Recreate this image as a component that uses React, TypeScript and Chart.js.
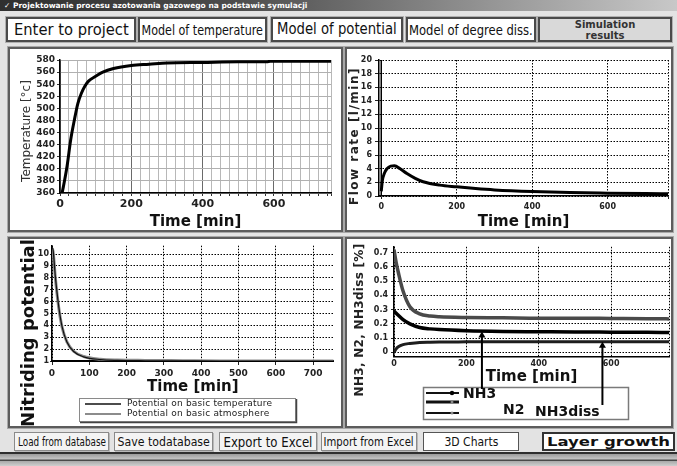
import React, { useEffect, useLayoutEffect, useRef } from "react";
import { Chart, registerables } from "chart.js";

Chart.register(...registerables);

const SANS = "'DejaVu Sans', 'Noto Sans', sans-serif";

// ---------- data ----------
// Temperature model
const tempTime = [0, 5, 10, 20, 30, 40, 50, 60, 70, 80, 100, 120, 150, 200, 250, 300, 400, 500, 580, 590, 760];
const tempValues = [350, 358, 372, 405, 448, 480, 508, 525, 537, 545, 553, 560, 566, 571, 573, 575, 576, 577, 577, 578, 578];
const tempTicks = [360, 380, 400, 420, 440, 460, 480, 500, 520, 540, 560, 580];

// Flow rate
const flowTime = [0, 3, 8, 15, 25, 35, 50, 68, 90, 111, 155, 200, 250, 300, 400, 500, 600, 700, 760];
const flowValues = [0.7, 2.3, 3.3, 4.0, 4.4, 4.45, 4.0, 3.3, 2.6, 2.1, 1.6, 1.35, 1.1, 0.9, 0.65, 0.5, 0.42, 0.36, 0.33];
const flowStartTime = [0, 0];
const flowStartValues = [0, 20];
const flowTicks = [0, 2, 4, 6, 8, 10, 12, 14, 16, 18, 20];

// Nitriding potential
const potTime = [0, 3, 9, 18, 27, 40, 58, 85, 130, 175, 250, 350, 450, 550, 650, 755];
const potTemperature = [10.6, 10.3, 8.1, 5.6, 3.9, 2.6, 1.8, 1.35, 1.12, 1.05, 1.02, 1.01, 1.0, 1.0, 1.0, 1.0];
const potAtmosphere = [10.5, 10.2, 8.0, 5.5, 3.85, 2.6, 1.82, 1.38, 1.15, 1.08, 1.05, 1.03, 1.01, 1.0, 1.0, 1.0];
const potTicks = [1, 2, 3, 4, 5, 6, 7, 8, 9, 10];
const potTimeLabels = [0, 100, 200, 300, 400, 500, 600, 700];

// Gas composition
const gasTime = [0, 6, 12, 25, 44, 71, 100, 125, 200, 300, 400, 500, 600, 700, 760];
const nh3Values = [0.29, 0.275, 0.26, 0.23, 0.2, 0.175, 0.165, 0.16, 0.152, 0.147, 0.145, 0.143, 0.142, 0.141, 0.14];
const n2Values = [0.72, 0.63, 0.56, 0.43, 0.32, 0.27, 0.255, 0.25, 0.245, 0.243, 0.24, 0.24, 0.238, 0.236, 0.235];
const nh3dissValues = [0.0, 0.025, 0.04, 0.055, 0.063, 0.07, 0.072, 0.073, 0.074, 0.075, 0.075, 0.075, 0.075, 0.075, 0.075];
const gasTicks = [0, 0.1, 0.2, 0.3, 0.4, 0.5, 0.6, 0.7];
const arrowTargets = [
  { label: "NH3", time: 243, value: 0.147 },
  { label: "NH3diss", time: 576, value: 0.075 },
];

const timeLabels = [0, 200, 400, 600];

// ---------- helpers ----------
const pts = (xs: number[], ys: number[]) => xs.map((x, i) => ({ x, y: ys[i] }));
const setTicks = (values: number[]) => (scale: any) => {
  scale.ticks = values.map((value) => ({ value }));
};

type TextItem = { text: string; x: number; y: number; rotate?: number; font: string; color?: string; align?: string; spacing?: number };
const textPlugin = (id: string, items: TextItem[]) => ({
  id,
  afterDraw(chart: any) {
    const ctx = chart.ctx;
    for (const it of items) {
      ctx.save();
      ctx.translate(it.x, it.y);
      if (it.rotate) ctx.rotate(it.rotate);
      ctx.font = it.font;
      if (it.spacing) ctx.letterSpacing = it.spacing + "px";
      ctx.fillStyle = it.color || "#000";
      ctx.textAlign = it.align || "center";
      ctx.textBaseline = "middle";
      ctx.fillText(it.text, 0, 0);
      ctx.restore();
    }
  },
});

const lineDs = (label: string, data: any, color: string, width: number) => ({
  label,
  data,
  borderColor: color,
  backgroundColor: color,
  borderWidth: width,
  pointRadius: 0,
  fill: false,
  cubicInterpolationMode: "monotone",
});

const tickFont = (size: number, weight = "bold") => ({ family: SANS, size, weight });
const timeTitle = (padBottom: number) => ({
  display: true,
  text: "Time [min]",
  color: "#111",
  font: { family: SANS, size: 15, weight: "bold", lineHeight: 1 },
  padding: { top: 0, bottom: padBottom },
});

// ---------- chart configs ----------
function tempConfig(): any {
  return {
    type: "line",
    data: { datasets: [lineDs("Temperature", pts(tempTime, tempValues), "#000", 3)] },
    options: {
      animation: false,
      responsive: false,
      layout: { padding: { top: 11, right: 10, left: 0, bottom: 0 } },
      plugins: { legend: { display: false }, tooltip: { enabled: false } },
      scales: {
        x: {
          type: "linear",
          min: 0,
          max: 760,
          afterBuildTicks: (s: any) => {
            const t: any[] = [];
            for (let v = 0; v <= 750; v += 25) t.push({ value: v });
            t.push({ value: 760 });
            s.ticks = t;
          },
          afterFit: (s: any) => { s.height = 37; },
          ticks: {
            autoSkip: false, maxRotation: 0, padding: 2, color: "#222", font: tickFont(11),
            callback: (v: number) => (timeLabels.includes(v) ? String(v) : ""),
          },
          grid: { color: (c: any) => (c.tick && c.tick.value % 200 === 0 ? "#6a6a6a" : "#b8b8b8"), tickLength: 3, tickColor: "#333" },
          border: { color: "#000", width: 1.5 },
          title: timeTitle(0.5),
        },
        y: {
          min: 360,
          max: 580,
          afterBuildTicks: setTicks(tempTicks),
          afterFit: (s: any) => { s.width = 50; },
          ticks: { autoSkip: false, padding: 2, color: "#222", font: tickFont(9) },
          grid: { color: "#b0b0b0", tickLength: 3, tickColor: "#333" },
          border: { color: "#000", width: 1.5 },
        },
      },
    },
    plugins: [
      textPlugin("t1", [{ text: "Temperature [°c]", x: 17, y: 82, rotate: -Math.PI / 2, font: `12px ${SANS}`, color: "#333" }]),
    ],
  };
}

const DASH = [1.5, 1.5];
const dotted = { color: "#000", tickLength: 4, tickColor: "#222" };

function flowConfig(): any {
  return {
    type: "line",
    data: {
      datasets: [
        lineDs("Flow rate", pts(flowTime, flowValues), "#000", 3),
        { ...lineDs("Start", pts(flowStartTime, flowStartValues), "#000", 1.5), cubicInterpolationMode: "default" },
      ],
    },
    options: {
      animation: false,
      responsive: false,
      layout: { padding: { top: 11, right: 3, left: 0, bottom: 0 } },
      plugins: { legend: { display: false }, tooltip: { enabled: false } },
      scales: {
        x: {
          type: "linear",
          min: -6,
          max: 760,
          afterBuildTicks: setTicks([...timeLabels, 760]),
          afterFit: (s: any) => { s.height = 34; },
          ticks: {
            autoSkip: false, maxRotation: 0, padding: 3, color: "#222", font: tickFont(8),
            callback: (v: number) => (timeLabels.includes(v) ? String(v) : ""),
          },
          grid: { ...dotted, tickLength: 3 },
          border: { color: "#000", width: 1.5, dash: DASH },
          title: timeTitle(0),
        },
        y: {
          min: 0,
          max: 20,
          afterBuildTicks: setTicks(flowTicks),
          afterFit: (s: any) => { s.width = 32; },
          ticks: { autoSkip: false, padding: 3, color: "#222", font: tickFont(8) },
          grid: dotted,
          border: { color: "#000", width: 1.5, dash: DASH },
        },
      },
    },
    plugins: [
      textPlugin("t2", [{ text: "Flow rate [l/min]", x: 8, y: 87, rotate: -Math.PI / 2, font: `bold 12px ${SANS}`, color: "#222", spacing: 1.5 }]),
    ],
  };
}

function potConfig(): any {
  const legendPlugin = {
    id: "potLegend",
    afterDraw(chart: any) {
      const ctx = chart.ctx;
      ctx.save();
      ctx.fillStyle = "#fff";
      ctx.fillRect(69, 159, 216, 23);
      ctx.strokeStyle = "#8a8a8a";
      ctx.lineWidth = 1;
      ctx.strokeRect(69.5, 159.5, 216, 23);
      ctx.strokeStyle = "#444";
      ctx.lineWidth = 1.5;
      ctx.beginPath();
      ctx.moveTo(70, 183.5);
      ctx.lineTo(286.5, 183.5);
      ctx.lineTo(286.5, 160);
      ctx.stroke();
      chart.data.datasets.forEach((ds: any, i: number) => {
        const y = 165 + i * 10;
        ctx.strokeStyle = ds.borderColor;
        ctx.lineWidth = i === 0 ? 1.5 : 2;
        ctx.beginPath();
        ctx.moveTo(75, y);
        ctx.lineTo(111, y);
        ctx.stroke();
        ctx.font = `9px ${SANS}`;
        ctx.letterSpacing = "0.2px";
        ctx.fillStyle = "#222";
        ctx.textAlign = "left";
        ctx.textBaseline = "middle";
        ctx.fillText(ds.label, 117, y);
      });
      ctx.restore();
    },
  };
  return {
    type: "line",
    data: {
      datasets: [
        lineDs("Potential on basic temperature", pts(potTime, potTemperature), "#111", 1.2),
        lineDs("Potential on basic atmosphere", pts(potTime, potAtmosphere), "#8c8c8c", 3),
      ],
    },
    options: {
      animation: false,
      responsive: false,
      layout: { padding: { top: 6.7, right: 7.4, left: 0, bottom: 0 } },
      plugins: { legend: { display: false }, tooltip: { enabled: false } },
      scales: {
        x: {
          type: "linear",
          min: 0,
          max: 755,
          afterBuildTicks: setTicks(potTimeLabels),
          afterFit: (s: any) => { s.height = 65; },
          ticks: { autoSkip: false, maxRotation: 0, padding: 3, color: "#222", font: tickFont(9) },
          grid: { ...dotted, tickLength: 4 },
          border: { color: "#000", width: 2, dash: DASH },
          title: timeTitle(31.5),
        },
        y: {
          min: 1,
          max: 10.7,
          afterBuildTicks: setTicks(potTicks),
          afterFit: (s: any) => { s.width = 42; },
          ticks: { autoSkip: false, padding: 1, color: "#222", font: tickFont(8) },
          grid: { ...dotted, tickLength: 2 },
          border: { color: "#000", width: 1.5, dash: DASH },
        },
      },
    },
    plugins: [
      textPlugin("t3", [{ text: "Nitriding potential", x: 19, y: 94, rotate: -Math.PI / 2, font: `bold 18px ${SANS}`, color: "#111" }]),
      legendPlugin,
    ],
  };
}

function gasConfig(): any {
  const legendPlugin = {
    id: "gasLegend",
    afterDraw(chart: any) {
      const ctx = chart.ctx;
      const xs = chart.scales.x;
      const ys = chart.scales.y;
      ctx.save();
      // legend box
      ctx.fillStyle = "#fff";
      ctx.fillRect(76, 148, 205, 32);
      ctx.strokeStyle = "#7a7a7a";
      ctx.lineWidth = 1.5;
      ctx.strokeRect(76.5, 148.5, 205, 32);
      const rowY = [154, 163, 174];
      chart.data.datasets.forEach((ds: any, i: number) => {
        ctx.strokeStyle = "#111";
        ctx.lineWidth = i === 1 ? 3 : 2;
        ctx.beginPath();
        ctx.moveTo(79, rowY[i]);
        ctx.lineTo(112, rowY[i]);
        ctx.stroke();
        ctx.fillStyle = i === 0 ? "#000" : "#888";
        ctx.beginPath();
        ctx.arc(105, rowY[i], i === 0 ? 2.2 : 1.5, 0, Math.PI * 2);
        ctx.fill();
      });
      ctx.fillStyle = "#111";
      ctx.font = `bold 14px ${SANS}`;
      ctx.textAlign = "left";
      ctx.textBaseline = "middle";
      const labelPos = [
        [116, 155],
        [156, 171],
        [188, 173],
      ];
      chart.data.datasets.forEach((ds: any, i: number) => {
        ctx.fillText(ds.label, labelPos[i][0], labelPos[i][1]);
      });
      // arrows
      const arrowBottom: Record<string, number> = { NH3: 150, NH3diss: 166 };
      for (const a of arrowTargets) {
        const px = xs.getPixelForValue(a.time);
        const py = ys.getPixelForValue(a.value);
        ctx.strokeStyle = "#000";
        ctx.lineWidth = 2;
        ctx.beginPath();
        ctx.moveTo(px, arrowBottom[a.label]);
        ctx.lineTo(px, py + 3);
        ctx.stroke();
        ctx.fillStyle = "#000";
        ctx.beginPath();
        ctx.moveTo(px, py);
        ctx.lineTo(px - 3.5, py + 6);
        ctx.lineTo(px + 3.5, py + 6);
        ctx.closePath();
        ctx.fill();
      }
      ctx.restore();
    },
  };
  return {
    type: "line",
    data: {
      datasets: [
        lineDs("NH3", pts(gasTime, nh3Values), "#000", 3.5),
        lineDs("N2", pts(gasTime, n2Values), "#4a4a4a", 3.5),
        lineDs("NH3diss", pts(gasTime, nh3dissValues), "#1e1e1e", 3),
      ],
    },
    options: {
      animation: false,
      responsive: false,
      layout: { padding: { top: 5.3, right: 1, left: 0, bottom: 0 } },
      plugins: { legend: { display: false }, tooltip: { enabled: false } },
      scales: {
        x: {
          type: "linear",
          min: 0,
          max: 760,
          afterBuildTicks: setTicks([...timeLabels, 760]),
          afterFit: (s: any) => { s.height = 69.3; },
          ticks: {
            autoSkip: false, maxRotation: 0, padding: 2, color: "#222", font: tickFont(8),
            callback: (v: number) => (timeLabels.includes(v) ? String(v) : ""),
          },
          grid: { ...dotted, drawTicks: false },
          border: { color: "#000", width: 1.5, dash: DASH },
          title: timeTitle(41.8),
        },
        y: {
          min: -0.03,
          max: 0.74,
          afterBuildTicks: setTicks(gasTicks),
          afterFit: (s: any) => { s.width = 47; },
          ticks: {
            autoSkip: false, padding: 3, color: "#222", font: tickFont(8),
            callback: (v: number) => (v === 0 ? "0" : v.toFixed(1)),
          },
          grid: { ...dotted, tickLength: 3 },
          border: { color: "#000", width: 1.5, dash: DASH },
        },
      },
    },
    plugins: [
      textPlugin("t4", [{ text: "NH3, N2, NH3diss [%]", x: 13, y: 81, rotate: -Math.PI / 2, font: `bold 12px ${SANS}`, color: "#222", spacing: 0.3 }]),
      legendPlugin,
    ],
  };
}

// ---------- components ----------
function ChartPanel({ x, y, w, h, make }: any) {
  const ref = useRef<HTMLCanvasElement>(null);
  useEffect(() => {
    const chart = new Chart(ref.current as HTMLCanvasElement, make());
    return () => chart.destroy();
  }, []);
  return (
    <div
      style={{
        position: "absolute", left: x, top: y, width: w, height: h, boxSizing: "border-box",
        border: "2px solid #5c5c5c", background: "#fff", boxShadow: "0 0 0 1px #a8a8a8",
      }}
    >
      <canvas ref={ref} width={w - 4} height={h - 4} style={{ position: "absolute", left: 0, top: 0 }} />
    </div>
  );
}

function Btn({ x, y, w, h, text, size, weight = "normal", textW, bg = "#fff", border = "2px solid #4a4a4a", shadow = "0 0 0 1px #b0b0b0", color = "#111", lh = 1 }: any) {
  const spanRef = useRef<HTMLSpanElement>(null);
  useLayoutEffect(() => {
    const el = spanRef.current;
    if (!el || !textW) return;
    const natural = el.offsetWidth;
    if (natural) el.style.transform = `scaleX(${textW / natural})`;
  }, []);
  return (
    <div
      style={{
        position: "absolute", left: x, top: y, width: w, height: h, boxSizing: "border-box",
        border, background: bg, boxShadow: shadow, display: "flex", alignItems: "center",
        justifyContent: "center", overflow: "hidden",
      }}
    >
      <span
        ref={spanRef}
        style={{
          display: "inline-block", flexShrink: 0, whiteSpace: "pre", fontFamily: SANS, fontSize: size,
          fontWeight: weight, color, lineHeight: lh, textAlign: "center", transformOrigin: "center",
        }}
      >
        {text}
      </span>
    </div>
  );
}

export default function App() {
  const bottomBorder = "1px solid #8a8a8a";
  return (
    <div
      style={{
        position: "fixed", left: 0, top: 0, width: 677, height: 466, background: "#e3e3e3",
        overflow: "hidden", fontFamily: SANS,
      }}
    >
      {/* title bar */}
      <div
        style={{
          position: "absolute", left: 0, top: 0, width: 677, height: 11,
          background: "linear-gradient(to right, #2f2f2f 0%, #4c4c4c 35%, #9a9a9a 75%, #c8c8c8 100%)",
        }}
      >
        <span
          style={{
            position: "absolute", left: 4, top: 0, fontSize: 7.5, lineHeight: "11px", color: "#fff",
            fontWeight: "bold", whiteSpace: "pre", fontFamily: SANS,
          }}
        >
          {"✓ Projektowanie procesu azotowania gazowego na podstawie symulacji"}
        </span>
      </div>

      {/* top buttons */}
      <Btn x={6} y={17} w={130} h={25} text="Enter to project" size={16} textW={115} />
      <Btn x={138} y={17} w={129} h={25} text="Model of temperature" size={14} textW={121} />
      <Btn x={271} y={17} w={132} h={25} text="Model of potential" size={15} textW={120} />
      <Btn x={406} y={17} w={130} h={25} text="Model of degree diss." size={14} textW={124} />
      <Btn x={538} y={17} w={134} h={25} text={"Simulation\nresults"} size={10} weight="bold" bg="#d9d9d9" color="#333" lh={1.1} />

      {/* chart panels */}
      <ChartPanel x={8} y={47} w={335} h={185} make={tempConfig} />
      <ChartPanel x={345} y={47} w={328} h={185} make={flowConfig} />
      <ChartPanel x={8} y={237} w={335} h={191} make={potConfig} />
      <ChartPanel x={345} y={237} w={328} h={191} make={gasConfig} />

      {/* bottom buttons */}
      <Btn x={14} y={432} w={95} h={19} text="Load from database" size={12} textW={88} bg="#f4f4f4" border={bottomBorder} shadow="1px 1px 0 #b8b8b8" />
      <Btn x={114} y={432} w={99} h={19} text="Save todatabase" size={13} textW={92} bg="#f4f4f4" border={bottomBorder} shadow="1px 1px 0 #b8b8b8" />
      <Btn x={219} y={432} w={98} h={19} text="Export to Excel" size={14} textW={89} bg="#f4f4f4" border={bottomBorder} shadow="1px 1px 0 #b8b8b8" />
      <Btn x={321} y={432} w={96} h={19} text="Import from Excel" size={12} textW={90} bg="#f4f4f4" border={bottomBorder} shadow="1px 1px 0 #b8b8b8" />
      <Btn x={423} y={432} w={96} h={19} text="3D Charts" size={13} textW={54} bg="#fff" border="1px solid #555" shadow="none" />
      <Btn x={542} y={432} w={133} h={19} text="Layer growth" size={13} weight="bold" textW={123} bg="#fff" border="2px solid #333" shadow="none" />

      {/* bottom frame stripes */}
      <div
        style={{
          position: "absolute", left: 0, top: 452, width: 677, height: 14,
          background:
            "linear-gradient(to bottom, #2e2e2e 0px, #2e2e2e 2px, #9a9a9a 2px, #c4c4c4 7px, #4a4a4a 8px, #4a4a4a 9px, #a8a8a8 9px, #cfcfcf 14px)",
        }}
      />
    </div>
  );
}
